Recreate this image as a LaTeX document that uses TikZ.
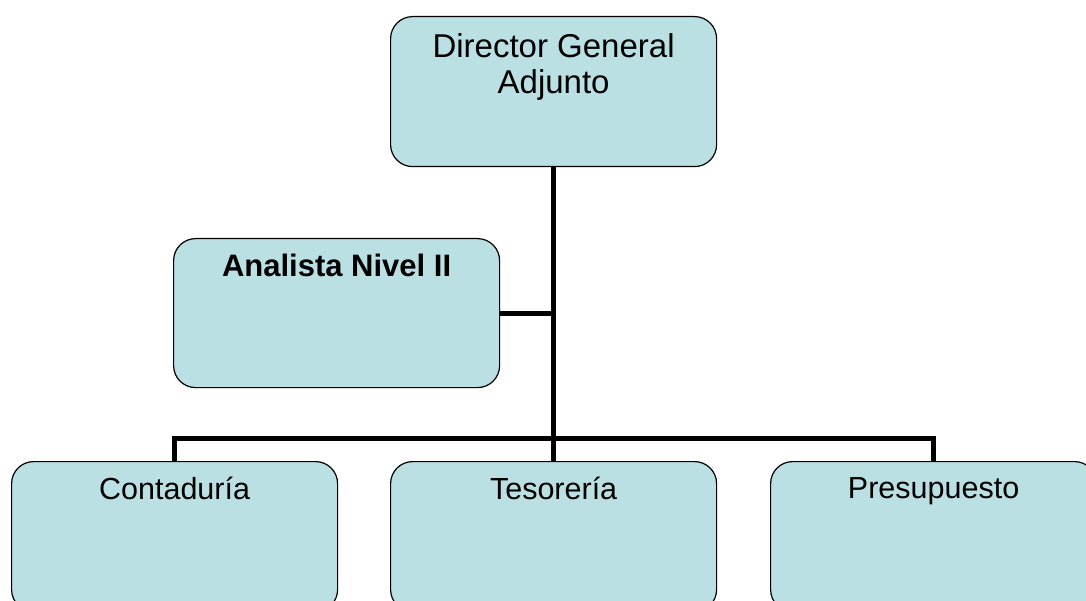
\documentclass[tikz,border=0pt]{standalone}
\usepackage{fontspec}
\setmainfont{Liberation Sans}
\usepackage{xcolor}
\usepackage{tikz}
\usetikzlibrary{positioning}
\definecolor{cajaazul}{RGB}{187,224,227}

\begin{document}
\begin{tikzpicture}[x=1pt, y=-1pt,
    puesto/.style={draw=black, line width=1.2pt, fill=cajaazul, rounded corners=22pt,
        minimum width=326pt, minimum height=150pt, inner sep=0pt, anchor=north west},
    titulo/.style={font=\fontsize{30.5}{36}\selectfont, align=center, inner sep=0pt},
    linea/.style={line width=5pt}]
    \clip (0,0) rectangle (1086,601);
    \fill[white] (0,0) rectangle (1086,601);
    \node[puesto] (dir) at (390,16) {};
    \node[puesto, minimum height=149pt] (ana) at (173,238) {};
    \node[puesto] (con) at (11,461) {};
    \node[puesto] (tes) at (390,461) {};
    \node[puesto] (pre) at (770,461) {};
    \node[titulo, font=\fontsize{33}{36}\selectfont, below=17pt of dir.north] (dirtxt) {Director General\\Adjunto};
    \node[titulo, font=\fontsize{31}{36}\selectfont\bfseries, below=16pt of ana.north] (anatxt) {Analista Nivel II};
    \node[titulo, below=16pt of con.north] (contxt) {Contaduría};
    \node[titulo, below=16pt of tes.north] (testxt) {Tesorería};
    \node[titulo, below=16pt of pre.north] (pretxt) {Presupuesto};
    \draw[linea] (dir.south) -- (tes.north);
    \draw[linea] (ana.east) -- (ana.east -| dir.south);
    \draw[linea] (con.north) -- ++(0,-23) -| (pre.north);
\end{tikzpicture}
\end{document}
